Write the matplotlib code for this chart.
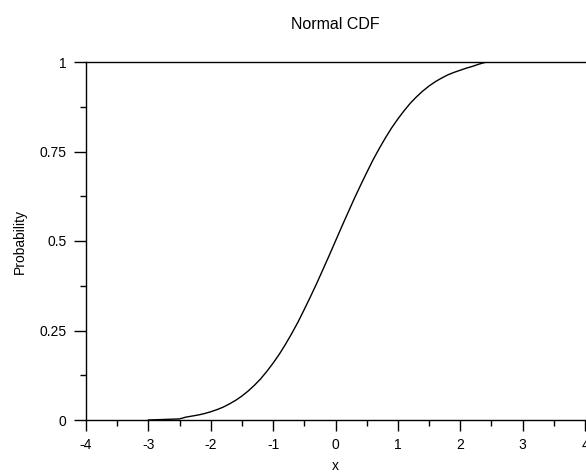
import matplotlib
matplotlib.use("Agg")
import matplotlib.pyplot as plt
from matplotlib.ticker import MultipleLocator

# values
x = [-3.0, -2.5, -2.4, -2.3, -2.2, -2.1, -2.0, -1.9, -1.8, -1.7, -1.6, -1.5, -1.4,
     -1.3, -1.2, -1.1, -1.0, -0.9, -0.8, -0.7, -0.6, -0.5, -0.4, -0.3, -0.2, -0.1,
     0.0, 0.1, 0.2, 0.3, 0.4, 0.5, 0.6, 0.7, 0.8, 0.9, 1.0, 1.1, 1.2, 1.3, 1.4,
     1.5, 1.6, 1.7, 1.8, 1.9, 2.0, 2.1, 2.2, 2.3, 2.4, 2.6]
p = [0.0, 0.003, 0.008, 0.011, 0.014, 0.018, 0.023, 0.029, 0.036, 0.045, 0.055,
     0.067, 0.081, 0.097, 0.115, 0.136, 0.159, 0.184, 0.212, 0.242, 0.274, 0.309,
     0.345, 0.382, 0.421, 0.460, 0.5, 0.540, 0.579, 0.618, 0.655, 0.691, 0.726,
     0.758, 0.788, 0.816, 0.841, 0.864, 0.885, 0.903, 0.919, 0.933, 0.945, 0.955,
     0.964, 0.971, 0.977, 0.983, 0.988, 0.994, 0.999, 1.0]

xticks = [-4, -3, -2, -1, 0, 1, 2, 3, 4]
yticks = [0, 0.25, 0.5, 0.75, 1]
ytick_labels = ["0", "0.25", "0.5", "0.75", "1"]

plt.rcParams['font.family'] = ['Liberation Sans', 'DejaVu Sans']
plt.rcParams['font.size'] = 10

fig = plt.figure(figsize=(5.86, 4.75), dpi=100)
ax = fig.add_axes([86 / 586, 1 - 420 / 475, (585 - 86) / 586, (420 - 62) / 475])

ax.plot(x, p, color="black", lw=1.0)

ax.set_xlim(-4, 4)
ax.set_ylim(0, 1)
ax.set_xticks(xticks)
ax.set_xticklabels([str(t) for t in xticks])
ax.set_yticks(yticks)
ax.set_yticklabels(ytick_labels)
ax.xaxis.set_minor_locator(MultipleLocator(0.5))
ax.yaxis.set_minor_locator(MultipleLocator(0.125))

ax.tick_params(which="major", direction="out", length=8, width=1, pad=5)
ax.tick_params(which="minor", direction="out", length=4.5, width=1)
ax.tick_params(axis="y", which="major", length=9, pad=5)

for s in ax.spines.values():
    s.set_linewidth(1)
ax.spines["right"].set_visible(False)

ax.set_title("Normal CDF", pad=24, fontsize=11.5)
ax.set_xlabel("x", labelpad=5)
ax.set_ylabel("Probability", labelpad=9)

fig.savefig("out.png", dpi=100)
